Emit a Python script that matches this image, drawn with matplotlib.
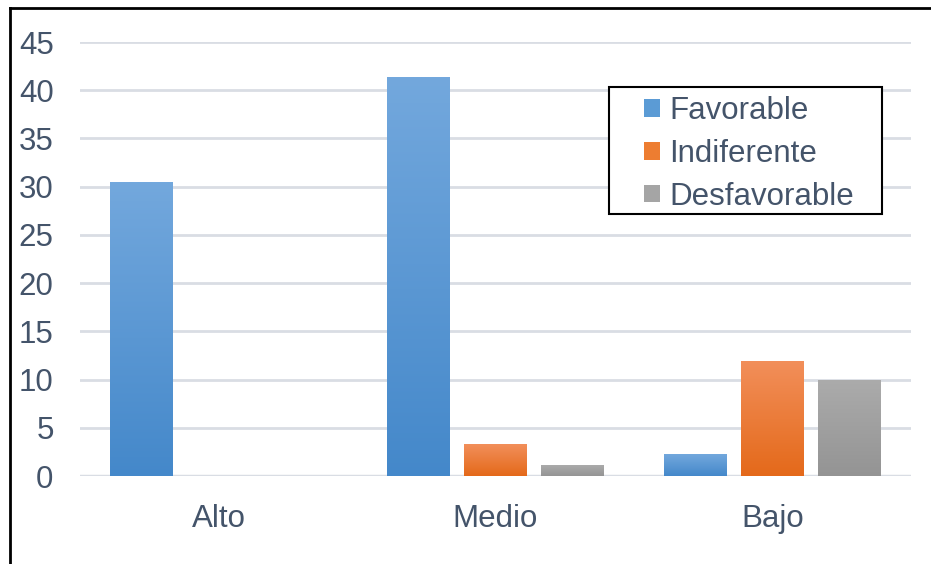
import matplotlib
matplotlib.use("Agg")
import matplotlib.pyplot as plt
import numpy as np
from matplotlib.colors import LinearSegmentedColormap
from matplotlib.lines import Line2D
from matplotlib.patches import Patch, Rectangle

categories = ["Alto", "Medio", "Bajo"]
series_names = ["Favorable", "Indiferente", "Desfavorable"]
favorable = [30.4, 41.3, 2.2]
indiferente = [0, 3.3, 11.9]
desfavorable = [0, 1.1, 9.9]
yticks = [0, 5, 10, 15, 20, 25, 30, 35, 40, 45]

series = [favorable, indiferente, desfavorable]
grad = [("#73a8dd", "#4488ca"), ("#f28f5a", "#e4691a"), ("#ababab", "#949494")]
solid = ["#5b9bd5", "#ed7d31", "#a5a5a5"]
txt = "#44546a"
FS = 22.5

plt.rcParams["font.family"] = ["Liberation Sans", "DejaVu Sans"]

fig = plt.figure(figsize=(9.31, 5.64), dpi=100)
W, H = 931, 564
ax = fig.add_axes([80 / W, 88 / H, (911 - 80) / W, (522 - 88) / H])

x = np.arange(len(categories))
bw = 0.227
step = 0.2775
for i, vals in enumerate(series):
    bars = ax.bar(x + (i - 1) * step, vals, width=bw, color="none", zorder=3)
    cmap = LinearSegmentedColormap.from_list("g%d" % i, [grad[i][1], grad[i][0]])
    for b in bars:
        h = b.get_height()
        if h <= 0:
            continue
        bx, bwid = b.get_x(), b.get_width()
        g = np.linspace(0, 1, 256).reshape(-1, 1)
        ax.imshow(g, extent=[bx, bx + bwid, 0, h], origin="lower", cmap=cmap,
                  aspect="auto", zorder=3, interpolation="bilinear")

ax.set_xlim(-0.5, 2.5)
ax.set_ylim(0, 45)
ax.set_yticks(yticks)
ax.set_xticks(x)
ax.set_xticklabels(categories)
ax.yaxis.grid(True, color="#d9dde4", linewidth=2, zorder=0)
ax.set_axisbelow(True)
for s in ax.spines.values():
    s.set_visible(False)
ax.axhline(0, color="#d9dde4", linewidth=2.5, zorder=2)
ax.tick_params(axis="both", length=0, labelsize=FS, labelcolor=txt)
ax.tick_params(axis="y", pad=19)
ax.tick_params(axis="x", pad=20)

# legend box
fig.add_artist(Rectangle((609 / W, 1 - 214 / H), (882 - 609) / W, (214 - 87) / H,
                         transform=fig.transFigure, facecolor="white",
                         edgecolor="black", linewidth=1.5, zorder=5))
handles = [Patch(facecolor=solid[i], edgecolor="none") for i in range(3)]
leg = fig.legend(handles, series_names, loc="upper left",
                 bbox_to_anchor=(644 / W, 1 - 96 / H), bbox_transform=fig.transFigure,
                 frameon=False, fontsize=FS,
                 handlelength=0.5, handleheight=0.5, handletextpad=0.3,
                 labelspacing=0.41, borderpad=0.0, borderaxespad=0)
leg.set_zorder(6)
for t in leg.get_texts():
    t.set_color(txt)

fig.add_artist(Line2D([9.5 / W, 9.5 / W], [0, 1 - 8 / H], color="black", linewidth=2, transform=fig.transFigure))
fig.add_artist(Line2D([9.5 / W, 1], [1 - 8 / H, 1 - 8 / H], color="black", linewidth=2, transform=fig.transFigure))

fig.savefig("out.png", dpi=100)
